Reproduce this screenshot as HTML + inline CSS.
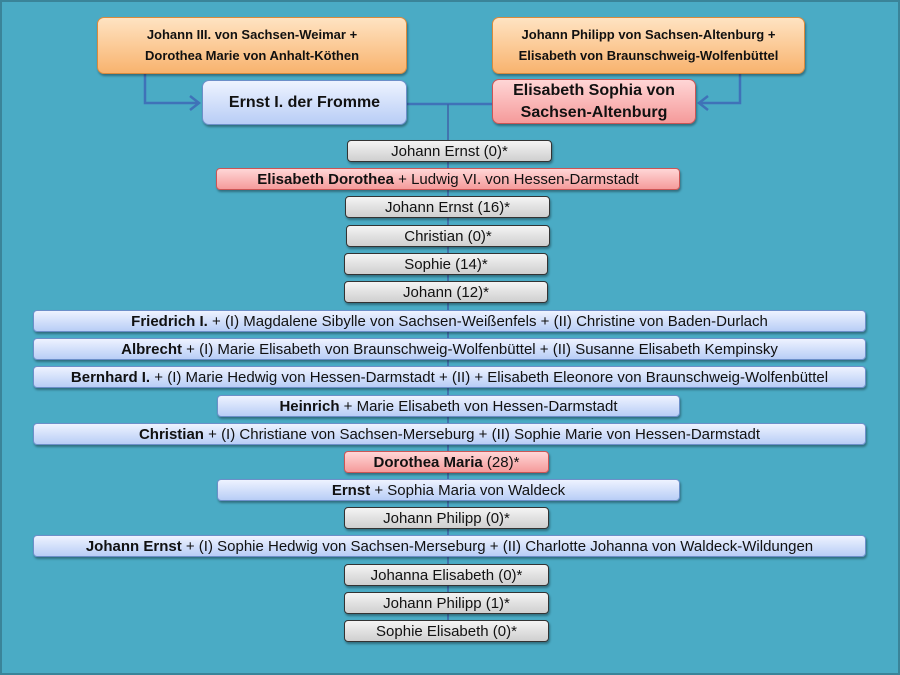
<!DOCTYPE html>
<html><head><meta charset="utf-8"><style>
*{margin:0;padding:0;box-sizing:border-box}
body{width:900px;height:675px;overflow:hidden;font-family:"Liberation Sans",sans-serif}
#bg{position:absolute;left:0;top:0;width:900px;height:675px;background:#4aabc5;border:2px solid #3a8499}
.b{position:absolute;display:flex;align-items:center;justify-content:center;text-align:center;font-size:15px;color:#111;white-space:nowrap;border-radius:4px;box-shadow:1px 2px 2px rgba(0,0,0,.35)}
.g{background:linear-gradient(#f4f4f4,#cfcfcf);border:1.5px solid #333}
.p{background:linear-gradient(#ffd6d6,#f59a9a);border:1px solid #c55}
.u{background:linear-gradient(#eef3ff,#b8cdf6);border:1px solid #6c8fc9}
.o{background:linear-gradient(#ffe3c2,#f8b36e);border:1px solid #d98a3c;font-size:13px;font-weight:bold;line-height:1.6;border-radius:7px}
b{font-weight:bold}
</style></head><body>
<div id="bg"></div>
<svg style="position:absolute;left:0;top:0" width="900" height="675">
<g stroke="#3f72b8" stroke-width="2.5" fill="none">
<path d="M145 74V103H198"/><path d="M190 96L199 103L190 110"/>
<path d="M740 74V103H700"/><path d="M708 96L699 103L708 110"/>
<path d="M407 104H492"/>
</g>
<line x1="448" y1="104" x2="448" y2="640" stroke="#3f62a8" stroke-width="1.5"/>
</svg>
<div class="b o" style="left:97px;top:17px;width:310px;height:57px">Johann III. von Sachsen-Weimar +<br>Dorothea Marie von Anhalt-Köthen</div>
<div class="b o" style="left:492px;top:17px;width:313px;height:57px">Johann Philipp von Sachsen-Altenburg +<br>Elisabeth von Braunschweig-Wolfenbüttel</div>
<div class="b u" style="left:202px;top:80px;width:205px;height:45px;font-weight:bold;font-size:16px;border-radius:7px">Ernst I. der Fromme</div>
<div class="b p" style="left:492px;top:79px;width:204px;height:45px;font-weight:bold;font-size:16px;line-height:1.35;border-radius:7px">Elisabeth Sophia von<br>Sachsen-Altenburg</div>

<div class="b g" style="left:347px;top:140px;width:205px;height:22px">Johann Ernst (0)*</div>
<div class="b p" style="left:216px;top:168px;width:464px;height:22px"><b>Elisabeth Dorothea</b>&nbsp;+ Ludwig VI. von Hessen-Darmstadt</div>
<div class="b g" style="left:345px;top:196px;width:205px;height:22px">Johann Ernst (16)*</div>
<div class="b g" style="left:346px;top:225px;width:204px;height:22px">Christian (0)*</div>
<div class="b g" style="left:344px;top:253px;width:204px;height:22px">Sophie (14)*</div>
<div class="b g" style="left:344px;top:281px;width:204px;height:22px">Johann (12)*</div>
<div class="b u" style="left:33px;top:310px;width:833px;height:22px"><b>Friedrich I.</b>&nbsp;+ (I) Magdalene Sibylle von Sachsen-Weißenfels + (II) Christine von Baden-Durlach</div>
<div class="b u" style="left:33px;top:338px;width:833px;height:22px"><b>Albrecht</b>&nbsp;+ (I) Marie Elisabeth von Braunschweig-Wolfenbüttel + (II) Susanne Elisabeth Kempinsky</div>
<div class="b u" style="left:33px;top:366px;width:833px;height:22px"><b>Bernhard I.</b>&nbsp;+ (I) Marie Hedwig von Hessen-Darmstadt + (II) + Elisabeth Eleonore von Braunschweig-Wolfenbüttel</div>
<div class="b u" style="left:217px;top:395px;width:463px;height:22px"><b>Heinrich</b>&nbsp;+ Marie Elisabeth von Hessen-Darmstadt</div>
<div class="b u" style="left:33px;top:423px;width:833px;height:22px"><b>Christian</b>&nbsp;+ (I) Christiane von Sachsen-Merseburg + (II) Sophie Marie von Hessen-Darmstadt</div>
<div class="b p" style="left:344px;top:451px;width:205px;height:22px"><b>Dorothea Maria</b>&nbsp;(28)*</div>
<div class="b u" style="left:217px;top:479px;width:463px;height:22px"><b>Ernst</b>&nbsp;+ Sophia Maria von Waldeck</div>
<div class="b g" style="left:344px;top:507px;width:205px;height:22px">Johann Philipp (0)*</div>
<div class="b u" style="left:33px;top:535px;width:833px;height:22px"><b>Johann Ernst</b>&nbsp;+ (I) Sophie Hedwig von Sachsen-Merseburg + (II) Charlotte Johanna von Waldeck-Wildungen</div>
<div class="b g" style="left:344px;top:564px;width:205px;height:22px">Johanna Elisabeth (0)*</div>
<div class="b g" style="left:344px;top:592px;width:205px;height:22px">Johann Philipp (1)*</div>
<div class="b g" style="left:344px;top:620px;width:205px;height:22px">Sophie Elisabeth (0)*</div>
</body></html>
